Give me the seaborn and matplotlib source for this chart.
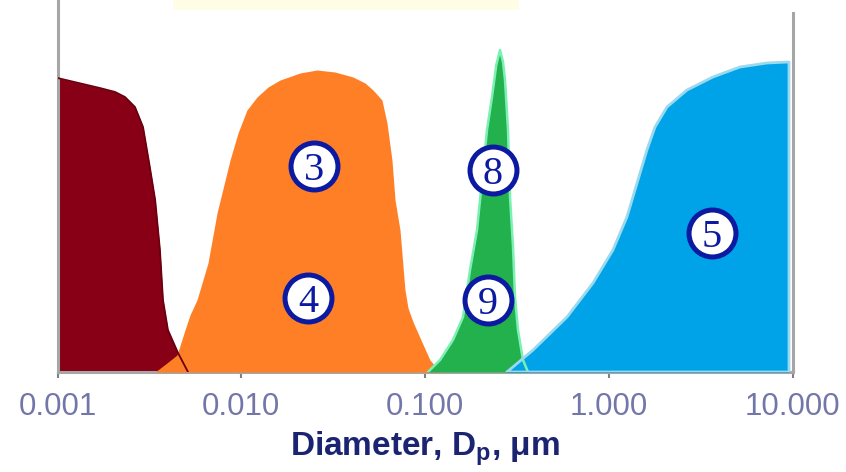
import matplotlib
matplotlib.use("Agg")
import matplotlib.pyplot as plt
from matplotlib.patches import Rectangle
import seaborn as sns

# ---------------- data (diameter in um, relative height) ----------------
maroon_d = [0.001, 0.0017, 0.00206, 0.00233, 0.00264, 0.00292, 0.00318,
            0.0034, 0.00361, 0.00375, 0.00399, 0.00453, 0.00513]
maroon_h = [294, 284, 280, 275, 265, 245, 205, 172, 122, 72, 42, 19, 0]

orange_d = [0.0034, 0.00394, 0.00447, 0.00494, 0.00526, 0.00574, 0.00659,
            0.00738, 0.00869, 0.0096, 0.01074, 0.01219, 0.01399, 0.01626,
            0.02089, 0.02582, 0.03236, 0.04055, 0.04715, 0.0521, 0.0583,
            0.0621, 0.0661, 0.0687, 0.0731, 0.0778, 0.0808, 0.0861, 0.0951,
            0.1064, 0.1161, 0.1237]
orange_h = [0, 9, 17, 42, 57, 72, 109, 159, 212, 239, 262, 275, 285, 292,
            299, 302, 300, 295, 289, 282, 272, 249, 212, 172, 142, 82, 64,
            50, 32, 12, 4, 0]

green_d = [0.1038, 0.1207, 0.142, 0.161, 0.1758, 0.1919, 0.2043, 0.2175,
           0.2315, 0.2443, 0.256, 0.2658, 0.2725, 0.283, 0.2902, 0.3013,
           0.3089, 0.3207, 0.3413, 0.3636]
green_h = [0, 12, 32, 55, 102, 142, 192, 242, 275, 307, 322, 310, 292, 242,
           175, 125, 75, 42, 12, 0]

blue_d = [0.2793, 0.3873, 0.5929, 0.821, 1.054, 1.256, 1.426, 1.614, 1.786,
          2.075, 2.667, 3.69, 5.176, 7.261, 9.572]
blue_h = [0, 22, 55, 89, 122, 155, 189, 222, 245, 265, 282, 295, 305, 309, 310]

label_text = ["3", "4", "8", "9", "5"]
label_d = [0.02489, 0.02308, 0.2344, 0.2203, 3.648]
label_h = [206, 74, 202, 72, 139]

tick_vals = [0.001, 0.01, 0.1, 1, 10]
tick_labels = ["0.001", "0.010", "0.100", "1.000", "10.000"]
xlabel = r"Diameter, D$_{\mathbf{p}}$, μm"

# ---------------- styling ----------------
sns.set_theme(style="white")
plt.rcParams["font.family"] = ["Liberation Sans", "DejaVu Sans"]
plt.rcParams["mathtext.fontset"] = "custom"
plt.rcParams["mathtext.rm"] = "Liberation Sans"
plt.rcParams["mathtext.bf"] = "Liberation Sans:bold"

C_MAROON = "#880015"
C_ORANGE = "#FF7F27"
C_GREEN = "#22B14C"
C_BLUE = "#00A2E8"
C_GREEN_EDGE = "#7CF0B4"
C_BLUE_EDGE = "#9AD9EE"
C_NAVY = "#0B1AA0"
C_GRAY = "#A6A6A6"

fig = plt.figure(figsize=(8.46, 4.72), dpi=100)
ax = fig.add_axes([57.5 / 846, 1 - 372 / 472, 735 / 846, 372 / 472])
ax.set_xscale("log")
ax.set_xlim(0.001, 10)
ax.set_ylim(0, 372)

# pale yellow band at the top
ax.add_patch(Rectangle((0.157, 0.973), 0.471, 0.03, transform=ax.transAxes,
                       facecolor="#FFFDE5", edgecolor="none", zorder=0,
                       clip_on=False))

ax.fill_between(maroon_d, maroon_h, 0, color=C_MAROON, lw=0, zorder=2)
ax.fill_between(orange_d, orange_h, 0, color=C_ORANGE, lw=0, zorder=3)
ax.fill_between(green_d, green_h, 0, facecolor=C_GREEN, lw=0, zorder=4)
ax.fill_between(blue_d, blue_h, 0, facecolor=C_BLUE, lw=0, zorder=5)

sns.lineplot(x=maroon_d, y=maroon_h, sort=False, estimator=None, ax=ax,
             color="#6A0010", lw=1.3, zorder=6)
sns.lineplot(x=green_d, y=green_h, sort=False, estimator=None, ax=ax,
             color=C_GREEN_EDGE, lw=1.8, zorder=6)
sns.lineplot(x=blue_d + [blue_d[-1], blue_d[0]], y=blue_h + [0, 0],
             sort=False, estimator=None, ax=ax,
             color=C_BLUE_EDGE, lw=2.0, zorder=6)

# circled numbers
ax.scatter(label_d, label_h, s=1142, facecolor="white", edgecolor=C_NAVY,
           linewidth=3.6, zorder=8)
for t, xd, yh in zip(label_text, label_d, label_h):
    ax.text(xd, yh, t, ha="center", va="center_baseline", fontsize=29,
            family=["Liberation Serif", "DejaVu Serif"], color=C_NAVY,
            zorder=9)

# axes styling
ax.spines["top"].set_visible(False)
for s in ["left", "right", "bottom"]:
    ax.spines[s].set_color(C_GRAY)
    ax.spines[s].set_linewidth(2.2)
ax.spines["right"].set_bounds(0, 359)
ax.set_yticks([])
ax.set_xticks(tick_vals)
ax.set_xticklabels(tick_labels)
ax.xaxis.set_minor_locator(matplotlib.ticker.NullLocator())
ax.tick_params(axis="x", which="major", direction="out", length=4.5,
               width=1.5, color="#808080", bottom=True, pad=10,
               labelsize=22.5, labelcolor="#7276A8")
ax.set_xlabel(xlabel, fontsize=24, fontweight="bold", color="#1B2470",
              labelpad=5)

fig.savefig("out.png", dpi=100)
